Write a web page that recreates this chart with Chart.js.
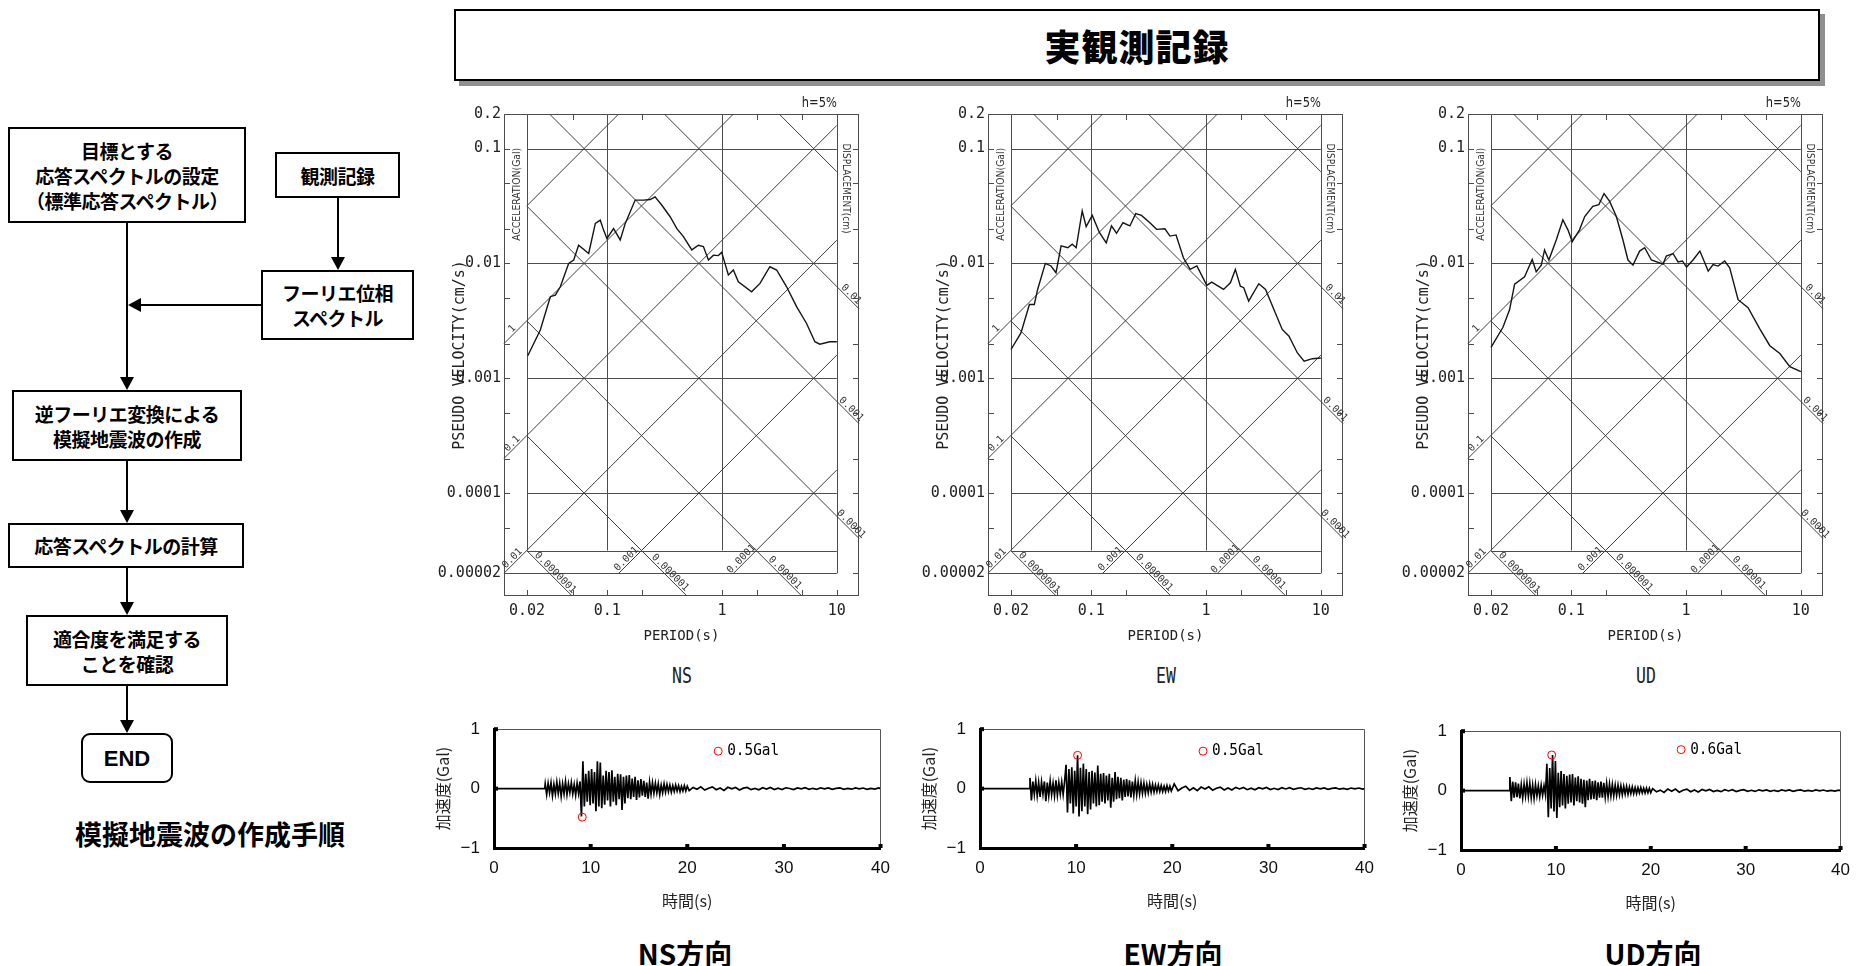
<!DOCTYPE html>
<html lang="ja">
<head>
<meta charset="utf-8">
<title>模擬地震波の作成手順 / 実観測記録</title>
<script src="https://cdn.jsdelivr.net/npm/chart.js@4.4.1/dist/chart.umd.min.js"></script>
<style>
  html, body { margin: 0; padding: 0; background: #fff; }
  body { position: relative; width: 1860px; height: 966px; overflow: hidden;
         font-family: 'Noto Sans CJK JP', 'Noto Sans', sans-serif; color: #000; }
  canvas { position: absolute; }
  .box { position: absolute; box-sizing: border-box; border: 2px solid #000; background: #fff;
         display: flex; align-items: center; justify-content: center; text-align: center;
         font-weight: 700; font-size: 19px; line-height: 25px; letter-spacing: -0.5px; }
  .end { border-radius: 9px; font-family: 'Liberation Sans', Arial, sans-serif; font-size: 22px; letter-spacing: 0; }
  .caption { position: absolute; transform: translate(-50%, -50%); white-space: nowrap; font-weight: 700; }
  .title-box { position: absolute; left: 454px; top: 9px; width: 1366px; height: 72px; box-sizing: border-box;
               border: 2px solid #000; background: #fff; box-shadow: 5px 5px 0 #8f8f8f;
               display: flex; align-items: center; justify-content: center;
               font-size: 36px; font-weight: 900; letter-spacing: 1px; }
  .dir { position: absolute; transform: translate(-50%, -50%) scaleX(0.75); font-family: 'DejaVu Sans Mono', monospace;
         font-size: 22px; color: #222; }
</style>
</head>
<body>

<!-- flow chart -->
<svg class="flow" width="430" height="800" style="position:absolute;left:0;top:0" stroke="#000" stroke-width="2" fill="#000">
  <line x1="127" y1="223" x2="127" y2="378"/>
  <polygon points="120,377 134,377 127,390" stroke="none"/>
  <line x1="338" y1="198" x2="338" y2="258"/>
  <polygon points="331,257 345,257 338,270" stroke="none"/>
  <line x1="261" y1="305" x2="140" y2="305"/>
  <polygon points="141,298 141,312 128,305" stroke="none"/>
  <line x1="127" y1="461" x2="127" y2="511"/>
  <polygon points="120,510 134,510 127,523" stroke="none"/>
  <line x1="127" y1="568" x2="127" y2="603"/>
  <polygon points="120,602 134,602 127,615" stroke="none"/>
  <line x1="127" y1="686" x2="127" y2="721"/>
  <polygon points="120,720 134,720 127,733" stroke="none"/>
</svg>
<div class="box" style="left:8px;top:127px;width:238px;height:96px;">目標とする<br>応答スペクトルの設定<br>（標準応答スペクトル）</div>
<div class="box" style="left:275px;top:152px;width:125px;height:46px;">観測記録</div>
<div class="box" style="left:261px;top:270px;width:153px;height:70px;">フーリエ位相<br>スペクトル</div>
<div class="box" style="left:12px;top:390px;width:230px;height:71px;">逆フーリエ変換による<br>模擬地震波の作成</div>
<div class="box" style="left:8px;top:523px;width:236px;height:45px;">応答スペクトルの計算</div>
<div class="box" style="left:26px;top:615px;width:202px;height:71px;">適合度を満足する<br>ことを確認</div>
<div class="box end" style="left:81px;top:733px;width:92px;height:50px;">END</div>
<div class="caption" style="left:210px;top:833px;font-size:27px;">模擬地震波の作成手順</div>

<!-- right part -->
<div class="title-box">実観測記録</div>

<canvas id="specNS" width="459" height="558" style="left:430px;top:90px"></canvas>
<canvas id="specEW" width="459" height="558" style="left:914px;top:90px"></canvas>
<canvas id="specUD" width="459" height="558" style="left:1394px;top:90px"></canvas>
<div class="dir" style="left:682px;top:675px">NS</div>
<div class="dir" style="left:1166px;top:675px">EW</div>
<div class="dir" style="left:1646px;top:675px">UD</div>

<canvas id="waveNS" width="470" height="210" style="left:430px;top:705px"></canvas>
<canvas id="waveEW" width="468" height="210" style="left:916px;top:705px"></canvas>
<canvas id="waveUD" width="463" height="210" style="left:1397px;top:707px"></canvas>
<div class="caption" style="left:685px;top:953px;font-size:28px;">NS方向</div>
<div class="caption" style="left:1173px;top:953px;font-size:28px;">EW方向</div>
<div class="caption" style="left:1653px;top:953px;font-size:28px;">UD方向</div>

<script>
// ---------------------------------------------------------------------------
// Response spectra (h=5%), period [s] vs pseudo velocity [cm/s]
// ---------------------------------------------------------------------------
const nsPeriod = [0.0203, 0.0261, 0.0319, 0.0353, 0.039, 0.0461, 0.051, 0.0563, 0.0689, 0.0787, 0.0869, 0.0929,
  0.0993, 0.1135, 0.1297, 0.1435, 0.175, 0.207, 0.237, 0.261, 0.299, 0.353, 0.404, 0.461, 0.545, 0.622, 0.688,
  0.761, 0.841, 0.929, 0.993, 1.06, 1.135, 1.255, 1.387, 1.81, 2.14, 2.61, 2.99, 3.65, 4.46, 5.45, 6.44, 7.11, 8.69, 10];
const nsSv = [0.00157, 0.00263, 0.00513, 0.0053, 0.00626, 0.01, 0.0107, 0.0144, 0.0122, 0.0223, 0.0238, 0.0195,
  0.0165, 0.0201, 0.016, 0.0223, 0.0356, 0.0356, 0.036, 0.038, 0.0321, 0.0255, 0.0201, 0.0171, 0.0131, 0.0144, 0.014,
  0.0107, 0.0118, 0.0117, 0.0125, 0.01, 0.00792, 0.00876, 0.00693, 0.00567, 0.0067, 0.00935, 0.00876, 0.00626, 0.0042,
  0.003, 0.00208, 0.00198, 0.00208, 0.00208];

const ewPeriod = [0.02, 0.0244, 0.027, 0.0289, 0.0319, 0.0341, 0.0398, 0.0446, 0.0493, 0.0546, 0.0625, 0.0682, 0.0739,
  0.0834, 0.0903, 0.102, 0.118, 0.135, 0.15, 0.166, 0.189, 0.217, 0.244, 0.274, 0.324, 0.371, 0.438, 0.485, 0.548,
  0.635, 0.727, 0.832, 1.016, 1.12, 1.42, 1.63, 1.8, 1.99, 2.13, 2.35, 2.88, 3.3, 3.9, 4.61, 5.28, 6.25, 7.15, 8.45, 10];
const ewSv = [0.00178, 0.00248, 0.00348, 0.00439, 0.00439, 0.00593, 0.01, 0.0095, 0.0083, 0.0142, 0.0137, 0.0147, 0.0137,
  0.0286, 0.0209, 0.0262, 0.0185, 0.0151, 0.0212, 0.0183, 0.0226, 0.0212, 0.0271, 0.0262, 0.0226, 0.0198, 0.02, 0.0173,
  0.0177, 0.0112, 0.00887, 0.0095, 0.00643, 0.00687, 0.00593, 0.00678, 0.00887, 0.00634, 0.00614, 0.0047, 0.00665,
  0.00593, 0.00397, 0.00266, 0.00232, 0.00166, 0.00141, 0.00148, 0.0015];

const udPeriod = [0.02, 0.0254, 0.029, 0.0321, 0.0392, 0.0457, 0.0495, 0.0548, 0.0585, 0.0638, 0.074, 0.0845, 0.0935,
  0.102, 0.118, 0.131, 0.154, 0.174, 0.193, 0.216, 0.247, 0.282, 0.312, 0.345, 0.394, 0.436, 0.499, 0.63, 0.673, 0.77,
  0.851, 0.929, 1.01, 1.15, 1.32, 1.56, 1.72, 1.9, 2.17, 2.4, 2.84, 3.47, 4.39, 5.37, 6.56, 8.02, 10];
const udSv = [0.00186, 0.00278, 0.00394, 0.00659, 0.00764, 0.0108, 0.00845, 0.00966, 0.0131, 0.0107, 0.016, 0.024,
  0.0196, 0.0155, 0.0196, 0.0256, 0.0314, 0.0325, 0.0406, 0.0347, 0.0256, 0.016, 0.0107, 0.00966, 0.0128, 0.0137,
  0.0107, 0.00986, 0.0116, 0.0122, 0.0103, 0.0105, 0.00929, 0.0107, 0.0128, 0.00857, 0.00979, 0.00948, 0.0105,
  0.00916, 0.00483, 0.00411, 0.00269, 0.00192, 0.00164, 0.00126, 0.00114];

// tripartite axes: ticks, labels, grid and the diagonal acceleration / displacement lines
const periodTicks = [0.02, 0.05, 0.1, 0.2, 1, 2, 5, 10];
const periodLabels = [0.02, 0.1, 1, 10];
const velocityTicks = [0.00002, 0.00005, 0.0001, 0.0002, 0.0005, 0.001, 0.002, 0.005, 0.01, 0.02, 0.05, 0.1, 0.2];
const velocityLabels = [0.00002, 0.0001, 0.001, 0.01, 0.1, 0.2];
const periodGrid = [0.1, 1];
const velocityGrid = [0.1, 0.01, 0.001, 0.0001];
const accelLines = [10, 1, 0.1, 0.01, 0.001, 0.0001];           // Gal
const accelLabels = [1, 0.1, 0.01, 0.001, 0.0001];
const dispLines = [0.1, 0.01, 0.001, 0.0001, 0.00001, 0.000001, 0.0000001];  // cm
const dispLabels = [0.01, 0.001, 0.0001, 0.00001, 0.000001, 0.0000001];

// ---------------------------------------------------------------------------
// Acceleration time histories [Gal]; strong part every 0.15 s, tail every 0.4 s
// ---------------------------------------------------------------------------
const nsStart = 5.3;
const nsStrong = [0.08, -0.10, 0.09, -0.07, 0.10, -0.12, 0.07, -0.09, 0.11, -0.08, 0.09, -0.13, 0.08, -0.09, 0.12,
  -0.10, 0.08, -0.07, 0.10, -0.09, 0.07, -0.11, 0.09, -0.08, 0.12,
  -0.47, 0.46, -0.30, 0.25, -0.22, 0.30, -0.28, 0.33, -0.25, 0.28, -0.38, 0.46, -0.30, 0.44, -0.33, 0.22, -0.27,
  0.30, -0.20, 0.28, -0.30, 0.31, -0.22, 0.20, -0.28, 0.25, -0.18, 0.24, -0.36, 0.20, -0.25, 0.22, -0.16, 0.23,
  -0.18, 0.17, -0.14, 0.20, -0.19, 0.14, -0.15, 0.16, -0.12, 0.13, -0.14, 0.10, -0.17, 0.11, -0.09, 0.10, -0.08,
  0.09, -0.07, 0.08, -0.10, 0.06, -0.07, 0.08, -0.06, 0.07, -0.05, 0.06, -0.06, 0.05, -0.05, 0.06, -0.04, 0.05,
  -0.05, 0.04, -0.04, 0.05, -0.04, 0.04];
const nsTail = [-0.035, 0.02, -0.01, 0.03, -0.025, 0.005, 0.028, -0.02, 0.01, -0.03, 0.022, -0.005, 0.018, -0.024,
  0.008, 0.02, -0.018, 0.004, -0.02, 0.016, -0.008, 0.02, -0.015, 0.006, -0.017, 0.014, 0.002, -0.015, 0.012,
  -0.004, 0.014, -0.013, 0.005, -0.012, 0.013, -0.003, 0.011, -0.012, 0.004, 0.012, -0.011, 0.003, -0.01, 0.012,
  -0.005, 0.01, -0.011, 0.004, -0.009, 0.01];

const ewStart = 5.2;
const ewStrong = [0.18, -0.20, 0.12, -0.10, 0.13, -0.12, 0.10, -0.14, 0.11, -0.09, 0.12, -0.21, 0.10, -0.12, 0.13,
  -0.10, 0.09, -0.12, 0.14, -0.11, 0.10, -0.09, 0.11, -0.10, 0.12,
  0.40, -0.40, 0.33, -0.25, 0.36, -0.42, 0.30, -0.30, 0.56, -0.47, 0.35, -0.38, 0.42, -0.30, 0.33, -0.43, 0.28,
  -0.35, 0.30, -0.25, 0.27, -0.30, 0.39, -0.28, 0.25, -0.22, 0.26, -0.25, 0.22, -0.20, 0.25, -0.32, 0.18, -0.22,
  0.28, -0.18, 0.20, -0.16, 0.18, -0.20, 0.15, -0.14, 0.16, -0.13, 0.14, -0.15, 0.12, -0.11, 0.13, -0.10, 0.11,
  -0.09, 0.10, -0.08, 0.09, -0.08, 0.07, -0.07, 0.08, -0.06, 0.07, -0.06, 0.06, -0.05, 0.06, -0.05, 0.05, -0.05,
  0.04, -0.05, 0.05, -0.04, 0.04, -0.04];
const ewTail = [0.08, -0.035, 0.01, 0.04, -0.03, 0.015, -0.035, 0.025, -0.008, 0.03, -0.026, 0.006, 0.025, -0.022,
  0.01, -0.024, 0.02, -0.006, 0.02, -0.018, 0.008, -0.02, 0.016, -0.004, 0.018, -0.016, 0.005, -0.015, 0.015,
  -0.006, 0.014, -0.013, 0.003, 0.014, -0.012, 0.005, -0.013, 0.012, -0.004, 0.012, -0.011, 0.004, 0.011, -0.01,
  0.003, -0.011, 0.01, -0.004, 0.01, -0.009];

const udStart = 5.15;
const udStrong = [0.23, -0.18, 0.15, -0.12, 0.14, -0.11, 0.12, -0.13, 0.10, -0.12, 0.11, -0.09, 0.13, -0.10, 0.12,
  -0.12, 0.09, -0.13, 0.10, -0.09, 0.08, -0.10, 0.09, -0.08, 0.08, -0.07,
  0.45, -0.45, 0.38, -0.30, 0.60, -0.35, 0.50, -0.46, 0.30, -0.28, 0.33, -0.25, 0.28, -0.30, 0.25, -0.22, 0.27,
  -0.20, 0.28, -0.25, 0.22, -0.18, 0.24, -0.20, 0.20, -0.22, 0.18, -0.28, 0.17, -0.16, 0.20, -0.15, 0.16, -0.14,
  0.17, -0.16, 0.14, -0.12, 0.15, -0.12, 0.13, -0.11, 0.12, -0.10, 0.11, -0.09, 0.10, -0.09, 0.09, -0.08, 0.09,
  -0.07, 0.08, -0.07, 0.07, -0.06, 0.07, -0.06, 0.06, -0.05, 0.06, -0.05, 0.05, -0.05, 0.05, -0.04, 0.05, -0.04,
  0.04, -0.04, 0.04, -0.035, 0.04, -0.035];
const udTail = [0.035, -0.02, 0.008, -0.03, 0.028, -0.01, 0.025, -0.026, 0.006, 0.024, -0.02, 0.01, -0.022, 0.018,
  -0.005, 0.02, -0.017, 0.004, -0.018, 0.016, -0.006, 0.015, -0.016, 0.004, 0.015, -0.013, 0.005, -0.014, 0.013,
  -0.003, 0.012, -0.013, 0.005, -0.011, 0.012, -0.004, 0.011, -0.011, 0.003, 0.011, -0.01, 0.004, -0.01, 0.011,
  -0.003, 0.01, -0.01, 0.004, -0.009, 0.009];

// peak values marked with red circles [s, Gal]
const nsPeak = { x: 9.13, y: -0.48 };
const ewPeak = { x: 10.15, y: 0.56 };
const udPeak = { x: 9.56, y: 0.60 };
const nsPeakLabel = '0.5Gal';
const ewPeakLabel = '0.5Gal';
const udPeakLabel = '0.6Gal';

// ---------------------------------------------------------------------------
const STRONG_DT = 0.15;
const TAIL_START = 20.2;
const TAIL_DT = 0.4;

const T_MIN = 0.0126, T_MAX = 15.6;      // outer frame
const T_IN_MIN = 0.02, T_IN_MAX = 10;    // inner grid
const SV_MIN = 1.27e-5, SV_MAX = 0.2;
const SV_BASE = 2e-5;                    // line under the acceleration labels
const SV_IN_MIN = 3.162e-5;              // bottom of the inner grid
const TWO_PI = 2 * Math.PI;
const MONO = "'DejaVu Sans Mono', monospace";
const SANS = "'Liberation Sans', Arial, sans-serif";
const CJK = "'Noto Sans CJK JP', sans-serif";

function fmtSmall(v) {
  return v.toFixed(Math.max(0, -Math.floor(Math.log10(v) + 1e-9)));
}

// text squeezed / stretched to a given width
function fitText(ctx, text, x, y, rot, font, width, align) {
  ctx.save();
  ctx.font = font;
  ctx.translate(x, y);
  ctx.rotate(rot);
  const w = ctx.measureText(text).width;
  ctx.scale(width / w, 1);
  ctx.textAlign = align || 'center';
  ctx.textBaseline = 'middle';
  ctx.fillText(text, 0, 0);
  ctx.restore();
}

// clip y = slope*x + c (log10 space) to a box
function clipDiagonal(slope, c, xr, yr) {
  let x0 = xr[0], x1 = xr[1];
  if (slope > 0) { x0 = Math.max(x0, yr[0] - c); x1 = Math.min(x1, yr[1] - c); }
  else { x0 = Math.max(x0, c - yr[1]); x1 = Math.min(x1, c - yr[0]); }
  return x0 < x1 ? [x0, x1] : null;
}

const tripartitePlugin = {
  id: 'tripartite',
  beforeDatasetsDraw(chart) {
    const { ctx, chartArea: a, scales: { x, y } } = chart;
    const px = v => x.getPixelForValue(v);
    const py = v => y.getPixelForValue(v);
    const r = v => Math.round(v) + 0.5;
    const seg = (x1, y1, x2, y2) => { ctx.beginPath(); ctx.moveTo(x1, y1); ctx.lineTo(x2, y2); ctx.stroke(); };
    const L = Math.log10;

    ctx.save();
    ctx.lineWidth = 1;
    ctx.strokeStyle = '#4d4d4d';
    ctx.strokeRect(r(a.left), r(a.top), Math.round(a.width) - 1, Math.round(a.height) - 1);

    // inner frame and straight grid
    seg(r(px(T_IN_MIN)), a.top, r(px(T_IN_MIN)), py(SV_IN_MIN));
    seg(r(px(T_IN_MAX)), a.top, r(px(T_IN_MAX)), py(SV_BASE));
    seg(px(T_IN_MIN), r(py(SV_IN_MIN)), px(T_IN_MAX), r(py(SV_IN_MIN)));
    seg(a.left, r(py(SV_BASE)), px(T_IN_MAX), r(py(SV_BASE)));
    periodGrid.forEach(t => seg(r(px(t)), a.top, r(px(t)), py(SV_IN_MIN)));
    velocityGrid.forEach(v => seg(px(T_IN_MIN), r(py(v)), px(T_IN_MAX), r(py(v))));

    // inward ticks on the outer frame
    const TL = 6;
    periodTicks.forEach(t => {
      seg(r(px(t)), a.bottom, r(px(t)), a.bottom - TL);
      seg(r(px(t)), a.top, r(px(t)), a.top + TL);
    });
    velocityTicks.forEach(v => {
      seg(a.left, r(py(v)), a.left + TL, r(py(v)));
      seg(a.right, r(py(v)), a.right - TL, r(py(v)));
    });

    // diagonal lines
    const drawDiag = (slope, c, xr, yr) => {
      const k = clipDiagonal(slope, c, xr, yr);
      if (!k) return;
      seg(px(10 ** k[0]), py(10 ** (slope * k[0] + c)), px(10 ** k[1]), py(10 ** (slope * k[1] + c)));
    };
    ctx.strokeStyle = '#3d3d3d';
    accelLines.forEach(A => {
      const xr = [L(A >= 10 ? T_IN_MIN : T_MIN), L(T_IN_MAX)];
      drawDiag(1, L(A / TWO_PI), xr, [L(SV_BASE), L(SV_MAX)]);
    });
    dispLines.forEach(D => {
      const xr = [L(T_IN_MIN), L(D >= 0.1 ? T_IN_MAX : T_MAX)];
      drawDiag(-1, L(TWO_PI * D), xr, [L(SV_MIN), L(SV_MAX)]);
    });

    // diagonal labels
    const dx = px(10) - px(1), dy = py(0.1) - py(0.01);
    const angA = Math.atan2(dy, dx), angD = Math.atan2(-dy, dx);
    ctx.fillStyle = '#333';
    ctx.font = '10px ' + MONO;
    ctx.textAlign = 'center';
    ctx.textBaseline = 'bottom';
    const tag = (text, X, Y, rot) => { ctx.save(); ctx.translate(X, Y); ctx.rotate(rot); ctx.fillText(text, 0, 0.5); ctx.restore(); };
    accelLabels.forEach(A => {
      let t = Math.sqrt(T_MIN * T_IN_MIN), v = A * t / TWO_PI;
      if (v < 2.5e-5) { v = 2.5e-5; t = TWO_PI * v / A; }
      tag(fmtSmall(A), px(t), py(v), angA);
    });
    dispLabels.forEach(D => {
      let t = Math.sqrt(T_IN_MAX * T_MAX), v = TWO_PI * D / t;
      if (v < SV_IN_MIN) { v = 1.9e-5; t = TWO_PI * D / v; }
      tag(fmtSmall(D), px(t), py(v), angD);
    });

    // axis names of the diagonal scales
    fitText(ctx, 'ACCELERATION(Gal)', px(0.0165), py(0.04), -Math.PI / 2, '10px ' + "'DejaVu Sans', sans-serif", 93);
    fitText(ctx, 'DISPLACEMENT(cm)', px(12.0), py(0.045), Math.PI / 2, '10px ' + "'DejaVu Sans', sans-serif", 90);
    ctx.restore();
  },
  afterDraw(chart) {
    const { ctx, chartArea: a, scales: { x } } = chart;
    ctx.save();
    ctx.fillStyle = '#222';
    fitText(ctx, 'h=5%', x.getPixelForValue(T_IN_MAX), a.top - 11, 0, "14px 'DejaVu Sans', sans-serif", 35, 'right');
    ctx.restore();
  }
};

function createSpectrumChart(id, period, sv) {
  const ctx = document.getElementById(id);
  return new Chart(ctx, {
    type: 'line',
    data: {
      datasets: [{
        data: period.map((t, i) => ({ x: t, y: sv[i] })),
        borderColor: '#151515',
        borderWidth: 1.4,
        pointRadius: 0,
        tension: 0
      }]
    },
    options: {
      responsive: false,
      animation: false,
      events: [],
      layout: { padding: { top: 24, right: 30, left: 0, bottom: 0 } },
      plugins: { legend: { display: false }, tooltip: { enabled: false } },
      scales: {
        x: {
          type: 'logarithmic',
          min: T_MIN,
          max: T_MAX,
          grid: { display: false, drawTicks: false },
          border: { display: false },
          afterBuildTicks: s => { s.ticks = periodTicks.map(v => ({ value: v })); },
          afterFit: s => { s.height = 52; },
          ticks: {
            autoSkip: false, maxRotation: 0, padding: 6, color: '#222',
            font: { family: MONO, size: 15 },
            callback: v => periodLabels.includes(v) ? String(v) : ''
          },
          title: { display: true, text: 'PERIOD(s)', color: '#222', font: { family: MONO, size: 14 }, padding: { top: 0, bottom: 3 } }
        },
        y: {
          type: 'logarithmic',
          min: SV_MIN,
          max: SV_MAX,
          grid: { display: false, drawTicks: false },
          border: { display: false },
          afterBuildTicks: s => { s.ticks = velocityTicks.map(v => ({ value: v })); },
          afterFit: s => { s.width = 74; },
          ticks: {
            autoSkip: false, padding: 3, color: '#222',
            font: { family: MONO, size: 15 },
            callback: v => velocityLabels.includes(v) ? String(v) : ''
          },
          title: { display: true, text: 'PSEUDO VELOCITY(cm/s)', color: '#222', font: { family: MONO, size: 15 }, padding: { top: 21, bottom: 0 } }
        }
      }
    },
    plugins: [tripartitePlugin]
  });
}

function wavePoints(start, strong, tail) {
  const pts = [{ x: 0, y: 0 }, { x: start - 0.05, y: 0 }];
  strong.forEach((a, i) => pts.push({ x: start + i * STRONG_DT, y: a }));
  tail.forEach((a, i) => pts.push({ x: TAIL_START + i * TAIL_DT, y: a }));
  pts.push({ x: 40, y: 0 });
  return pts;
}

const waveFramePlugin = {
  id: 'waveFrame',
  afterDatasetsDraw(chart, args, opts) {
    const { ctx, chartArea: a, scales: { x, y } } = chart;
    ctx.save();
    ctx.strokeStyle = '#555';
    ctx.lineWidth = 1;
    ctx.beginPath();
    ctx.moveTo(a.left, Math.round(a.top) + 0.5);
    ctx.lineTo(Math.round(a.right) - 0.5, Math.round(a.top) + 0.5);
    ctx.lineTo(Math.round(a.right) - 0.5, a.bottom);
    ctx.stroke();
    ctx.fillStyle = '#000';
    [10, 20, 30, 40].forEach(t => ctx.fillRect(x.getPixelForValue(t) - 2, a.bottom - 4, 4, 4));
    [1, 0].forEach(v => ctx.fillRect(a.left, y.getPixelForValue(v) - 2, 4, 4));
    fitText(ctx, opts.text, x.getPixelForValue(opts.x) + 9, y.getPixelForValue(opts.y), 0, '16px ' + MONO, 52, 'left');
    ctx.restore();
  }
};

function createWaveChart(id, points, peak, label, padRight) {
  const ctx = document.getElementById(id);
  const legendAt = { x: 23.2, y: label === '0.6Gal' ? 0.69 : 0.63 };
  return new Chart(ctx, {
    type: 'line',
    data: {
      datasets: [
        {
          data: [peak, legendAt],
          showLine: false,
          pointRadius: 4,
          pointBorderWidth: 1,
          pointBorderColor: '#ff0000',
          pointBackgroundColor: 'rgba(0,0,0,0)'
        },
        {
          data: points,
          borderColor: '#000',
          borderWidth: 1.7,
          pointRadius: 0,
          tension: 0
        }
      ]
    },
    options: {
      responsive: false,
      animation: false,
      events: [],
      layout: { padding: { top: 20, right: padRight, left: 0, bottom: 0 } },
      plugins: {
        legend: { display: false },
        tooltip: { enabled: false },
        waveFrame: { text: label, x: legendAt.x, y: legendAt.y }
      },
      scales: {
        x: {
          type: 'linear', min: 0, max: 40,
          grid: { display: false, drawTicks: false },
          border: { display: true, color: '#000', width: 3 },
          afterFit: s => { s.height = 67; },
          ticks: { stepSize: 10, padding: 10, color: '#111', font: { family: SANS, size: 17 } },
          title: { display: true, text: '時間(s)', color: '#222', font: { family: CJK, size: 16 }, padding: { top: 0, bottom: 4 } }
        },
        y: {
          type: 'linear', min: -1, max: 1,
          grid: { display: false, drawTicks: false },
          border: { display: true, color: '#000', width: 3 },
          afterFit: s => { s.width = 64; },
          ticks: {
            stepSize: 1, padding: 14, color: '#111', font: { family: SANS, size: 17 },
            callback: v => v < 0 ? '\u2212' + Math.abs(v) : String(v)
          },
          title: { display: true, text: '加速度(Gal)', color: '#222', font: { family: CJK, size: 16 }, padding: { top: 3, bottom: 0 } }
        }
      }
    },
    plugins: [waveFramePlugin]
  });
}

createSpectrumChart('specNS', nsPeriod, nsSv);
createSpectrumChart('specEW', ewPeriod, ewSv);
createSpectrumChart('specUD', udPeriod, udSv);

createWaveChart('waveNS', wavePoints(nsStart, nsStrong, nsTail), nsPeak, nsPeakLabel, 14);
createWaveChart('waveEW', wavePoints(ewStart, ewStrong, ewTail), ewPeak, ewPeakLabel, 14);
createWaveChart('waveUD', wavePoints(udStart, udStrong, udTail), udPeak, udPeakLabel, 10);
</script>
</body>
</html>
